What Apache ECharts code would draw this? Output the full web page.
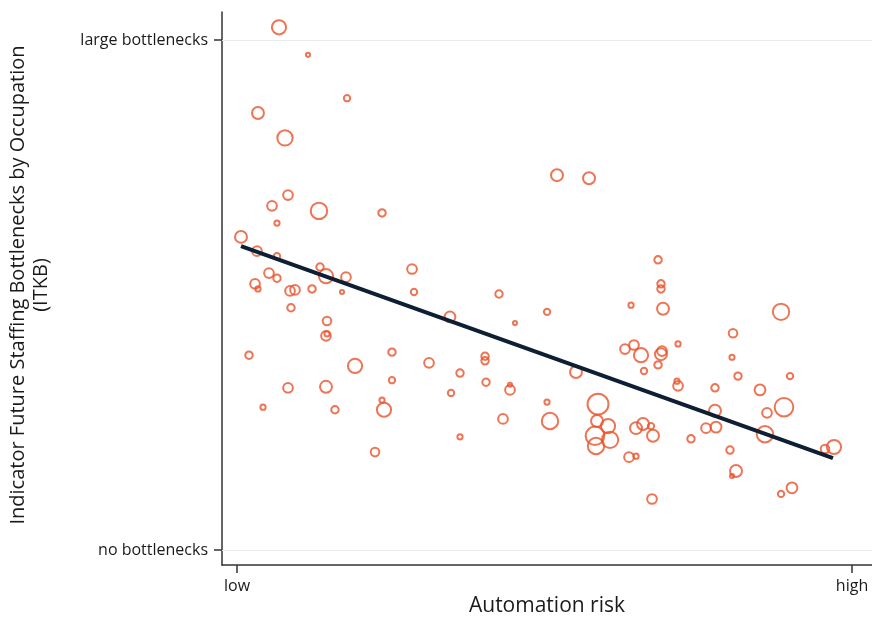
<!DOCTYPE html>
<html><head><meta charset="utf-8">
<script src="https://cdn.jsdelivr.net/npm/echarts@6/dist/echarts.min.js"></script>
<style>html,body{margin:0;padding:0;background:#fff}#c{width:872px;height:618px}</style>
</head><body><div id="c"></div>
<script>
// Automation risk (0 = low, 100 = high)
const riskX = [6.83,11.54,17.89,3.41,7.80,8.29,5.69,13.33,23.58,6.50,0.65,3.25,6.50,13.50,14.47,17.72,5.20,6.50,28.46,2.93,3.41,8.62,9.43,12.20,17.07,28.78,8.78,14.63,14.47,14.63,1.95,25.20,19.19,31.22,25.20,8.29,14.47,4.23,15.93,23.58,23.90,22.44,52.03,57.24,42.60,34.63,45.20,50.41,64.07,36.26,40.33,40.33,34.80,40.49,44.39,44.39,36.26,43.25,50.41,50.89,55.12,58.70,58.54,60.33,58.21,60.65,58.37,63.09,64.55,65.69,66.18,64.88,66.02,67.64,67.32,63.74,64.88,67.48,68.46,68.94,68.94,69.27,88.46,80.65,71.71,80.49,69.11,68.94,68.46,81.46,89.92,71.54,71.71,77.72,85.04,88.94,86.18,77.72,76.26,77.89,73.82,85.85,80.16,81.14,80.49,95.61,97.07,90.24,88.46];
// Bottleneck indicator (0 = no bottlenecks, 100 = large bottlenecks)
const bottleneckY = [102.5,97.1,88.6,85.7,80.8,69.6,67.5,66.5,66.1,64.1,61.4,58.6,57.6,55.5,53.7,53.5,54.3,53.3,55.1,52.2,51.2,50.8,51.0,51.2,50.6,50.6,47.5,44.9,42.0,42.4,38.2,38.8,36.1,36.7,33.3,31.8,32.0,28.0,27.5,29.4,27.5,19.2,73.5,72.9,50.2,45.7,44.5,46.7,48.0,34.7,38.0,37.1,30.8,32.9,31.4,32.4,22.2,25.7,29.0,25.3,34.9,28.6,25.3,24.3,22.4,21.6,20.4,39.4,40.2,38.2,35.1,23.9,24.7,22.4,24.3,18.2,18.4,10.0,56.9,52.2,51.2,47.3,46.7,42.5,40.4,37.8,39.0,38.4,36.3,34.1,34.1,33.1,32.2,31.8,31.4,28.0,26.9,27.3,23.9,24.1,21.8,22.7,19.6,15.5,14.5,19.8,20.2,12.2,11.0];
// Occupation weight (bubble size)
const weight = [14,5,7,12,15,10,10,16,8,6,12,10,7,8,14,10,10,8,10,10,6,10,10,8,5,7,8,9,10,6,8,8,14,10,7,10,12,6,8,6,14,9,12,12,8,11,5,7,6,8,8,8,7,8,10,5,6,10,6,16,12,20,12,14,18,16,16,10,10,14,7,12,12,12,7,10,6,10,8,8,8,12,16,9,6,6,10,12,8,8,7,6,10,8,11,18,10,12,10,11,8,16,8,12,5,9,14,11,7];
// Linear fit endpoints
const fitX = [0.65, 96.9];
const fitY = [59.6, 18.0];
// Tick labels
const xTickValues = [0, 100];
const xTickLabels = ['low', 'high'];
const yTickValues = [0, 100];
const yTickLabels = ['no bottlenecks', 'large bottlenecks'];

const pts = riskX.map((x, i) => [x, bottleneckY[i], weight[i]]);
const fit = fitX.map((x, i) => [x, fitY[i]]);

const chart = echarts.init(document.getElementById('c'), null, {renderer: 'canvas'});
const FONT = '"Open Sans", "Noto Sans", sans-serif';
chart.setOption({
  animation: false,
  backgroundColor: '#fff',
  grid: {left: 222, right: 0, top: 12, bottom: 53},
  xAxis: {
    type: 'value', min: -2.44, max: 103.25,
    axisLine: {show: true, onZero: false, lineStyle: {color: '#333', width: 1.5}},
    axisTick: {show: true, customValues: xTickValues, length: 8, lineStyle: {color: '#333', width: 1.5}},
    axisLabel: {customValues: xTickValues, formatter: v => xTickLabels[xTickValues.indexOf(v)], color: '#1a1a1a', fontSize: 16, fontFamily: FONT, margin: 13},
    splitLine: {show: false}
  },
  yAxis: {
    type: 'value', min: -2.94, max: 105.5,
    axisLine: {show: true, onZero: false, lineStyle: {color: '#333', width: 1.5}},
    axisTick: {show: true, customValues: yTickValues, length: 8, lineStyle: {color: '#333', width: 1.5}},
    axisLabel: {customValues: yTickValues, formatter: v => yTickLabels[yTickValues.indexOf(v)], color: '#1a1a1a', fontSize: 16, fontFamily: FONT, margin: 14},
    splitLine: {show: false}
  },
  graphic: [
    {type: 'text', x: 547, y: 606, style: {text: 'Automation risk', font: '21px ' + FONT, fill: '#1a1a1a', align: 'center', verticalAlign: 'middle'}},
    {type: 'text', x: 30, y: 285, rotation: Math.PI / 2, style: {text: 'Indicator Future Staffing Bottlenecks by Occupation\n(ITKB)', font: '20px ' + FONT, fill: '#1a1a1a', align: 'center', verticalAlign: 'middle', lineHeight: 23}}
  ],
  series: [
    {
      type: 'scatter', data: pts, silent: true,
      symbol: 'circle',
      symbolSize: v => Math.max(v[2] * 1.12 - 1.5, 2),
      itemStyle: {color: 'rgba(0,0,0,0)', borderColor: '#e8532a', borderWidth: 2},
      markLine: {
        silent: true, symbol: 'none', label: {show: false},
        lineStyle: {color: '#e6ecef', width: 1.2, type: 'solid'},
        data: yTickValues.map(v => ({yAxis: v}))
      },
      z: 3
    },
    {
      type: 'line', data: fit, symbol: 'none', silent: true,
      lineStyle: {color: '#0f1f33', width: 4},
      z: 4
    }
  ]
});
</script></body></html>
